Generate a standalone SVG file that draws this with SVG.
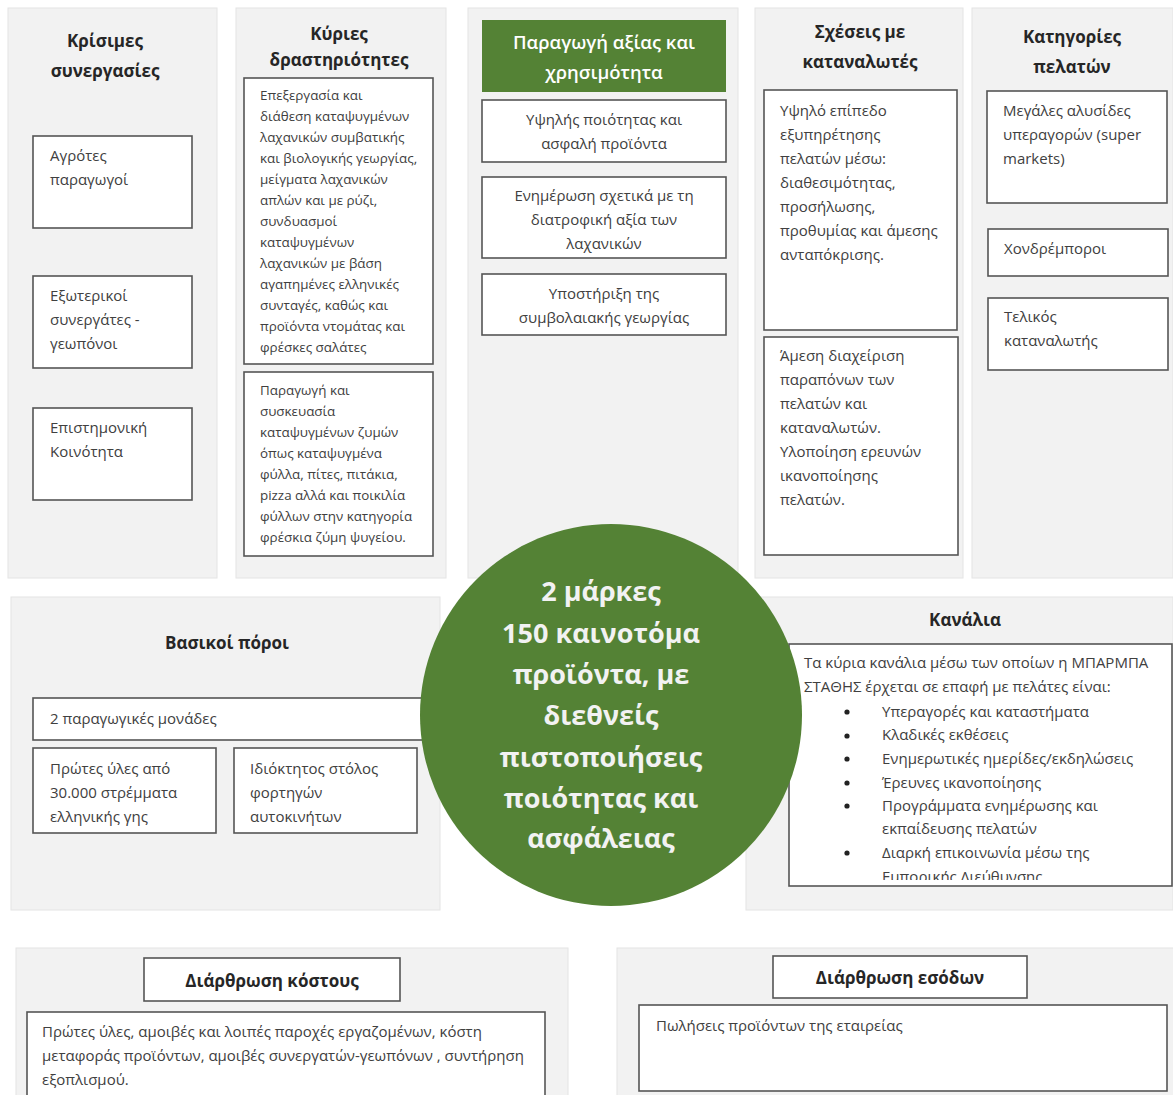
<svg xmlns="http://www.w3.org/2000/svg" width="1173" height="1095" viewBox="0 0 1173 1095">
<defs>
<style>
.panel{fill:#f2f2f2;stroke:#e4e4e4;stroke-width:1}
.box{fill:#ffffff;stroke:#555555;stroke-width:1.6}
.t{font-family:"Open Sans","Liberation Sans",sans-serif;font-size:15px;fill:#404040}
.s{font-family:"Open Sans","Liberation Sans",sans-serif;font-size:13.4px;fill:#404040}
.h{font-family:"Open Sans","Liberation Sans",sans-serif;font-size:17px;font-weight:bold;fill:#262626;text-anchor:middle}
.c{text-anchor:middle}
.w{font-family:"Open Sans","Liberation Sans",sans-serif;font-size:18.5px;font-weight:600;fill:#ffffff;text-anchor:middle}
.big{font-family:"Open Sans","Liberation Sans",sans-serif;font-size:27px;font-weight:bold;fill:#f2f2f2;text-anchor:middle}
</style>
<clipPath id="chclip"><rect x="789" y="644" width="384" height="236"/></clipPath>
</defs>
<rect width="1173" height="1095" fill="#ffffff"/>

<g id="key-partners">
<rect class="panel" x="8" y="8" width="209" height="570"/>
<text class="h" x="105" y="47">Κρίσιμες</text>
<text class="h" x="105" y="77">συνεργασίες</text>
<rect class="box" x="33" y="136" width="159" height="92"/>
<text class="t" x="50" y="161">Αγρότες</text>
<text class="t" x="50" y="185">παραγωγοί</text>
<rect class="box" x="33" y="276" width="159" height="92"/>
<text class="t" x="50" y="301">Εξωτερικοί</text>
<text class="t" x="50" y="325">συνεργάτες -</text>
<text class="t" x="50" y="349">γεωπόνοι</text>
<rect class="box" x="33" y="408" width="159" height="92"/>
<text class="t" x="50" y="433">Επιστημονική</text>
<text class="t" x="50" y="457">Κοινότητα</text>
</g>

<g id="key-activities">
<rect class="panel" x="236" y="8" width="210" height="570"/>
<text class="h" x="339" y="40">Κύριες</text>
<text class="h" x="339" y="66">δραστηριότητες</text>
<rect class="box" x="244" y="78" width="189" height="286"/>
<text class="s" x="260" y="100">Επεξεργασία  και</text>
<text class="s" x="260" y="121">διάθεση καταψυγμένων</text>
<text class="s" x="260" y="142">λαχανικών συμβατικής</text>
<text class="s" x="260" y="163">και βιολογικής γεωργίας,</text>
<text class="s" x="260" y="184">μείγματα λαχανικών</text>
<text class="s" x="260" y="205">απλών και με ρύζι,</text>
<text class="s" x="260" y="226">συνδυασμοί</text>
<text class="s" x="260" y="247">καταψυγμένων</text>
<text class="s" x="260" y="268">λαχανικών με βάση</text>
<text class="s" x="260" y="289">αγαπημένες ελληνικές</text>
<text class="s" x="260" y="310">συνταγές, καθώς και</text>
<text class="s" x="260" y="331">προϊόντα ντομάτας και</text>
<text class="s" x="260" y="352">φρέσκες σαλάτες</text>
<rect class="box" x="244" y="372" width="189" height="184"/>
<text class="s" x="260" y="395">Παραγωγή και</text>
<text class="s" x="260" y="416">συσκευασία</text>
<text class="s" x="260" y="437">καταψυγμένων ζυμών</text>
<text class="s" x="260" y="458">όπως καταψυγμένα</text>
<text class="s" x="260" y="479">φύλλα, πίτες, πιτάκια,</text>
<text class="s" x="260" y="500">pizza αλλά και ποικιλία</text>
<text class="s" x="260" y="521">φύλλων στην κατηγορία</text>
<text class="s" x="260" y="542">φρέσκια ζύμη ψυγείου.</text>
</g>

<g id="value-proposition">
<rect class="panel" x="468" y="8" width="270" height="570"/>
<rect x="482" y="20" width="244" height="72" fill="#548235"/>
<text class="w" x="604" y="49">Παραγωγή αξίας και</text>
<text class="w" x="604" y="79">χρησιμότητα</text>
<rect class="box" x="482" y="100" width="244" height="62"/>
<text class="t c" x="604" y="125">Υψηλής ποιότητας και</text>
<text class="t c" x="604" y="149">ασφαλή προϊόντα</text>
<rect class="box" x="482" y="177" width="244" height="81"/>
<text class="t c" x="604" y="201">Ενημέρωση σχετικά με τη</text>
<text class="t c" x="604" y="225">διατροφική αξία των</text>
<text class="t c" x="604" y="249">λαχανικών</text>
<rect class="box" x="482" y="274" width="244" height="61"/>
<text class="t c" x="604" y="299">Υποστήριξη της</text>
<text class="t c" x="604" y="323">συμβολαιακής γεωργίας</text>
</g>

<g id="customer-relationships">
<rect class="panel" x="755" y="8" width="208" height="570"/>
<text class="h" x="860" y="38">Σχέσεις με</text>
<text class="h" x="860" y="68">καταναλωτές</text>
<rect class="box" x="764" y="90" width="193" height="240"/>
<text class="t" x="780" y="116">Υψηλό επίπεδο</text>
<text class="t" x="780" y="140">εξυπηρέτησης</text>
<text class="t" x="780" y="164">πελατών μέσω:</text>
<text class="t" x="780" y="188">διαθεσιμότητας,</text>
<text class="t" x="780" y="212">προσήλωσης,</text>
<text class="t" x="780" y="236">προθυμίας και άμεσης</text>
<text class="t" x="780" y="260">ανταπόκρισης.</text>
<rect class="box" x="764" y="337" width="194" height="218"/>
<text class="t" x="780" y="361">Άμεση διαχείριση</text>
<text class="t" x="780" y="385">παραπόνων των</text>
<text class="t" x="780" y="409">πελατών και</text>
<text class="t" x="780" y="433">καταναλωτών.</text>
<text class="t" x="780" y="457">Υλοποίηση ερευνών</text>
<text class="t" x="780" y="481">ικανοποίησης</text>
<text class="t" x="780" y="505">πελατών.</text>
</g>

<g id="customer-segments">
<rect class="panel" x="972" y="8" width="201" height="570"/>
<text class="h" x="1072" y="43">Κατηγορίες</text>
<text class="h" x="1072" y="73">πελατών</text>
<rect class="box" x="987" y="91" width="180" height="112"/>
<text class="t" x="1003" y="116">Μεγάλες αλυσίδες</text>
<text class="t" x="1003" y="140">υπεραγορών (super</text>
<text class="t" x="1003" y="164">markets)</text>
<rect class="box" x="988" y="229" width="180" height="47"/>
<text class="t" x="1004" y="254">Χονδρέμποροι</text>
<rect class="box" x="988" y="298" width="180" height="72"/>
<text class="t" x="1004" y="322">Τελικός</text>
<text class="t" x="1004" y="346">καταναλωτής</text>
</g>

<g id="key-resources">
<rect class="panel" x="11" y="597" width="429" height="313"/>
<text class="h" x="227" y="649">Βασικοί πόροι</text>
<rect class="box" x="33" y="698" width="397" height="42"/>
<text class="t" x="50" y="724">2 παραγωγικές μονάδες</text>
<rect class="box" x="33" y="748" width="183" height="85"/>
<text class="t" x="50" y="774">Πρώτες ύλες από</text>
<text class="t" x="50" y="798">30.000 στρέμματα</text>
<text class="t" x="50" y="822">ελληνικής γης</text>
<rect class="box" x="234" y="748" width="183" height="85"/>
<text class="t" x="250" y="774">Ιδιόκτητος στόλος</text>
<text class="t" x="250" y="798">φορτηγών</text>
<text class="t" x="250" y="822">αυτοκινήτων</text>
</g>

<g id="channels">
<rect class="panel" x="746" y="597" width="427" height="313"/>
<text class="h" x="965" y="626">Κανάλια</text>
<rect class="box" x="789" y="644" width="383" height="242"/>
<g clip-path="url(#chclip)">
<text class="t" x="804" y="668">Τα κύρια κανάλια μέσω των οποίων η ΜΠΑΡΜΠΑ</text>
<text class="t" x="804" y="692">ΣΤΑΘΗΣ έρχεται σε επαφή με πελάτες είναι:</text>
<g fill="#222222">
<circle cx="847" cy="712" r="2.6"/>
<circle cx="847" cy="736" r="2.6"/>
<circle cx="847" cy="759" r="2.6"/>
<circle cx="847" cy="783" r="2.6"/>
<circle cx="847" cy="806" r="2.6"/>
<circle cx="847" cy="853" r="2.6"/>
</g>
<text class="t" x="882" y="717">Υπεραγορές και καταστήματα</text>
<text class="t" x="882" y="740">Κλαδικές εκθέσεις</text>
<text class="t" x="882" y="764">Ενημερωτικές ημερίδες/εκδηλώσεις</text>
<text class="t" x="882" y="788">Έρευνες ικανοποίησης</text>
<text class="t" x="882" y="811">Προγράμματα ενημέρωσης και</text>
<text class="t" x="882" y="834">εκπαίδευσης πελατών</text>
<text class="t" x="882" y="858">Διαρκή επικοινωνία μέσω της</text>
<text class="t" x="882" y="882">Εμπορικής Διεύθυνσης</text>
</g>
</g>

<g id="cost-structure">
<rect class="panel" x="16" y="948" width="552" height="160"/>
<rect class="box" x="144" y="958" width="256" height="43"/>
<text class="h" x="272" y="987">Διάρθρωση κόστους</text>
<rect class="box" x="27" y="1012" width="518" height="100"/>
<text class="t" x="42" y="1037">Πρώτες ύλες, αμοιβές και λοιπές παροχές εργαζομένων, κόστη</text>
<text class="t" x="42" y="1061">μεταφοράς προϊόντων, αμοιβές συνεργατών-γεωπόνων , συντήρηση</text>
<text class="t" x="42" y="1085">εξοπλισμού.</text>
</g>

<g id="revenue-streams">
<rect class="panel" x="617" y="948" width="560" height="160"/>
<rect class="box" x="773" y="956" width="254" height="42"/>
<text class="h" x="900" y="984">Διάρθρωση εσόδων</text>
<rect class="box" x="639" y="1005" width="528" height="86"/>
<text class="t" x="656" y="1031">Πωλήσεις προϊόντων της εταιρείας</text>
</g>

<g id="core">
<circle cx="611" cy="715" r="191" fill="#548235"/>
<text class="big" x="601" y="601">2 μάρκες</text>
<text class="big" x="601" y="643">150 καινοτόμα</text>
<text class="big" x="601" y="684">προϊόντα, με</text>
<text class="big" x="601" y="725">διεθνείς</text>
<text class="big" x="601" y="767">πιστοποιήσεις</text>
<text class="big" x="601" y="808">ποιότητας και</text>
<text class="big" x="601" y="848">ασφάλειας</text>
</g>

<g id="connectors"></g>
</svg>
